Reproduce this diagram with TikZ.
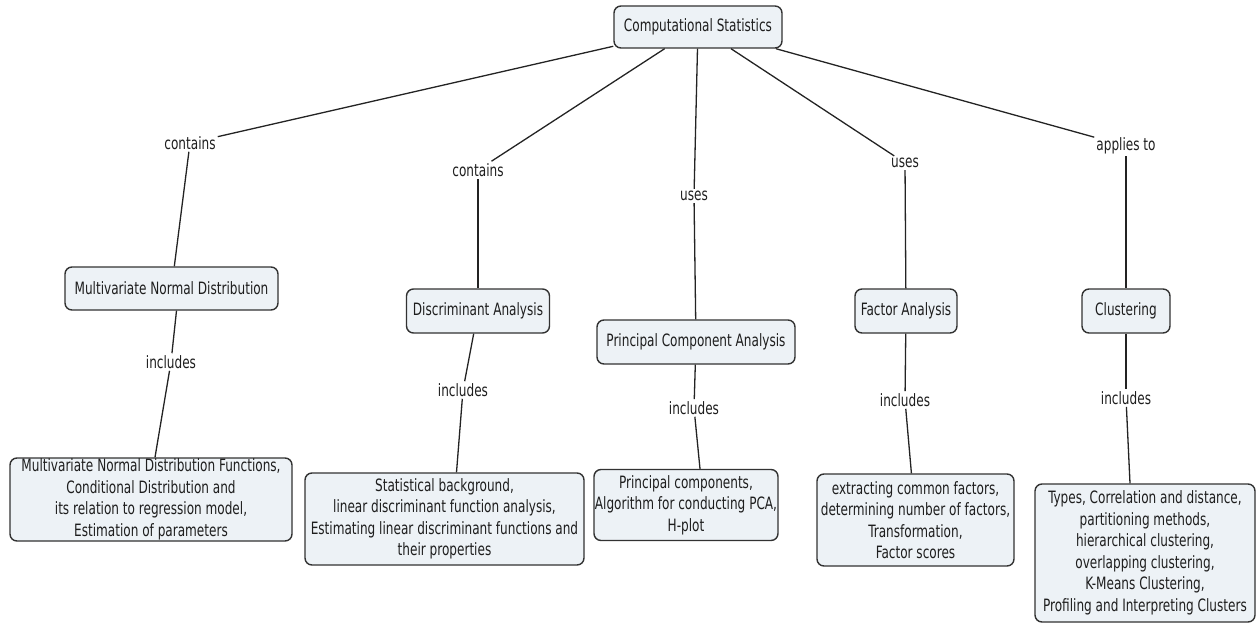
\documentclass[tikz,border=0pt]{standalone}
\usepackage{fontspec}
\setmainfont[FakeStretch=0.79]{DejaVu Sans Condensed}
\newcommand\mapfont{\fontsize{17}{21.5}\selectfont}
\definecolor{boxfill}{RGB}{237,242,246}
\definecolor{boxline}{RGB}{50,50,50}
\definecolor{linec}{RGB}{35,35,35}
\definecolor{textc}{RGB}{30,30,30}
\begin{document}
\begin{tikzpicture}[x=1pt,y=-1pt,
  concept/.style={draw=boxline, fill=boxfill, rounded corners=7pt, line width=1.4pt,
    align=center, inner sep=0pt, font=\mapfont, text=textc},
  linklabel/.style={font=\mapfont, inner sep=2pt, text=textc},
  conn/.style={draw=linec, line width=1.3pt}]
\useasboundingbox (0,0) rectangle (1256,626);

% concepts
\node[concept, minimum width=168pt, minimum height=42pt] (cs) at (698,27) {Computational Statistics};
\node[concept, minimum width=213pt, minimum height=43pt] (mnd) at (171.5,288.5) {Multivariate Normal Distribution};
\node[concept, minimum width=143pt, minimum height=44pt] (da) at (478,311) {Discriminant Analysis};
\node[concept, minimum width=198pt, minimum height=44pt] (pca) at (696,342) {Principal Component Analysis};
\node[concept, minimum width=102pt, minimum height=44pt] (fa) at (906,311) {Factor Analysis};
\node[concept, minimum width=88pt, minimum height=44pt] (cl) at (1126,311) {Clustering};

\node[concept, minimum width=282pt, minimum height=83pt] (mndd) at (151,499.5)
  {Multivariate Normal Distribution Functions,\\ Conditional Distribution and\\ its relation to regression model,\\ Estimation of parameters};
\node[concept, minimum width=279pt, minimum height=92pt] (dad) at (444.5,519)
  {Statistical background,\\ linear discriminant function analysis,\\ Estimating linear discriminant functions and\\ their properties};
\node[concept, minimum width=184pt, minimum height=71pt] (pcad) at (686,505)
  {Principal components,\\ Algorithm for conducting PCA,\\ H-plot};
\node[concept, minimum width=197pt, minimum height=92pt] (fad) at (915.5,520)
  {extracting common factors,\\ determining number of factors,\\ Transformation,\\ Factor scores};
\node[concept, minimum width=220pt, minimum height=138pt] (cld) at (1145,553)
  {Types, Correlation and distance,\\ partitioning methods,\\ hierarchical clustering,\\ overlapping clustering,\\ K-Means Clustering,\\ Profiling and Interpreting Clusters};

% linking phrases
\node[linklabel] (l1) at (190,143) {contains};
\node[linklabel] (l2) at (478,170) {contains};
\node[linklabel] (l3) at (694,196) {uses};
\node[linklabel] (l4) at (905,163) {uses};
\node[linklabel] (l5) at (1126,146) {applies to};
\node[linklabel] (i1) at (171,362) {includes};
\node[linklabel] (i2) at (463,390) {includes};
\node[linklabel] (i3) at (694,408) {includes};
\node[linklabel] (i4) at (905,400) {includes};
\node[linklabel] (i5) at (1126,398) {includes};

% connectors
\draw[conn] (cs) -- (l1);
\draw[conn] (l1) -- (mnd);
\draw[conn] (cs) -- (l2);
\draw[conn] (l2) -- (da);
\draw[conn] (cs) -- (l3);
\draw[conn] (l3) -- (pca);
\draw[conn] (cs) -- (l4);
\draw[conn] (l4) -- (fa);
\draw[conn] (cs) -- (l5);
\draw[conn] (l5) -- (cl);

\draw[conn] ([xshift=5pt]mnd.south) -- (i1);
\draw[conn] (i1) -- ([xshift=4pt]mndd.north);
\draw[conn] (da) -- (i2);
\draw[conn] (i2) -- ([xshift=12pt]dad.north);
\draw[conn] (pca) -- (i3);
\draw[conn] (i3) -- ([xshift=14pt]pcad.north);
\draw[conn] (fa) -- (i4);
\draw[conn] (i4) -- (fad);
\draw[conn] (cl) -- (i5);
\draw[conn] (i5) -- ([xshift=-15pt]cld.north);
\end{tikzpicture}
\end{document}
